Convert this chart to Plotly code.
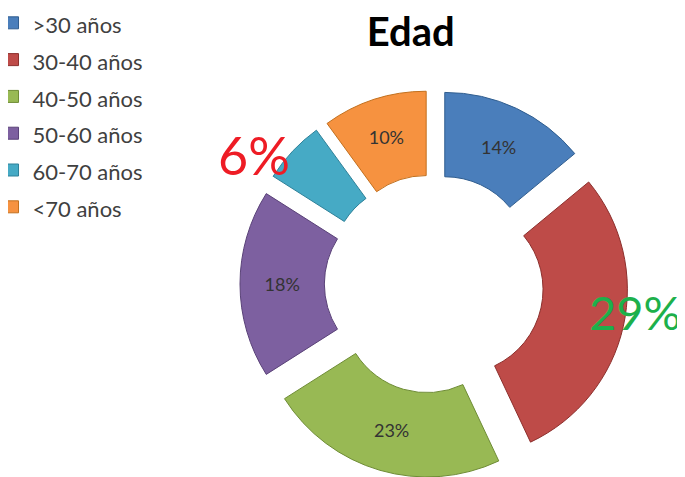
import plotly.graph_objects as go

labels = [">30 años", "30-40 años", "40-50 años", "50-60 años", "60-70 años", "<70 años"]
values = [14, 29, 23, 18, 6, 10]
colors = ["#4A7EBB", "#BE4B48", "#98B954", "#7D60A0", "#46AAC5", "#F69240"]
line_colors = ["#2F5D8F", "#8C2F2C", "#6E8C35", "#5A4278", "#2E8199", "#C2701E"]
big_labels = {1: ("#1DB04B", 47, 0.915, 0.3627), 4: ("#EE1C25", 52, 0.359, 0.692)}

slice_text = ["" if i in big_labels else f"{v}%" for i, v in enumerate(values)]
legend_names = [f'<span style="font-size:22px">{l}</span>' for l in labels]

fig = go.Figure(go.Pie(
    labels=legend_names,
    values=values,
    text=slice_text,
    textinfo="text",
    textposition="inside",
    textfont=dict(color="#333333", size=18, family="Lato"),
    insidetextorientation="horizontal",
    hole=0.5,
    pull=0.15,
    sort=False,
    direction="clockwise",
    rotation=0,
    hoverinfo="label+percent",
    marker=dict(colors=colors, line=dict(color=line_colors, width=1)),
    domain=dict(x=[0.3387, 0.9051], y=[0.0147, 0.8281]),
))

for i, (col, size, ax, ay) in big_labels.items():
    fig.add_annotation(text=f"{values[i]}%", x=ax, y=ay, xref="paper", yref="paper",
                       showarrow=False, xanchor="center", yanchor="middle",
                       font=dict(family="Lato", size=size, color=col))

fig.update_layout(
    width=685, height=477,
    margin=dict(l=0, r=0, t=0, b=0, autoexpand=False),
    paper_bgcolor="white",
    plot_bgcolor="white",
    title=dict(text="<b>Edad</b>", x=0.588, xanchor="center", y=0.95, yanchor="middle",
               font=dict(family="Lato", size=40, color="black")),
    legend=dict(x=-0.0226, y=1.018, xanchor="left", yanchor="top",
                font=dict(family="Lato", size=26, color="#404040"),
                bgcolor="rgba(0,0,0,0)"),
    showlegend=True,
)

fig.write_html("out.html")
